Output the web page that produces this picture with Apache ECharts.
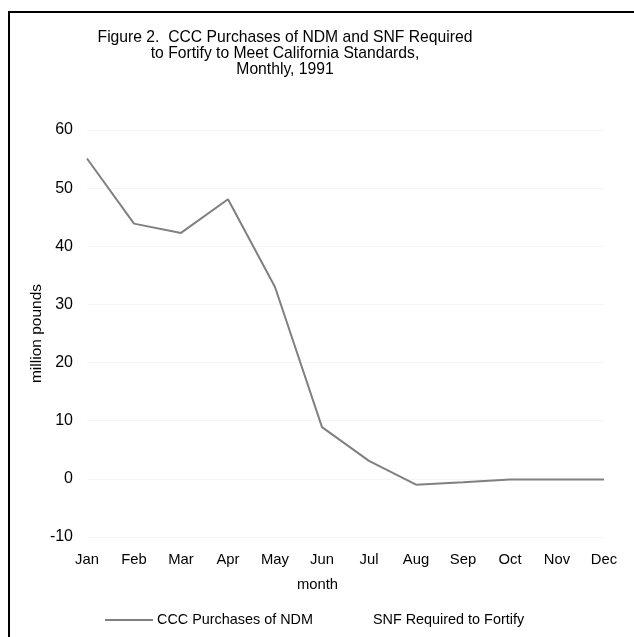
<!DOCTYPE html>
<html>
<head>
<meta charset="utf-8">
<script src="https://cdn.jsdelivr.net/npm/echarts@6/dist/echarts.min.js"></script>
<style>html,body{margin:0;padding:0;background:#fff}#c{width:634px;height:637px}</style>
</head>
<body>
<div id="c"></div>
<script>
const months = ['Jan','Feb','Mar','Apr','May','Jun','Jul','Aug','Sep','Oct','Nov','Dec'];
const cccPurchases = [55.1, 43.9, 42.3, 48.1, 33.0, 8.9, 3.1, -1.0, -0.6, -0.1, -0.1, -0.1];
const snfRequired = [];
const yTicks = [-10, 0, 10, 20, 30, 40, 50, 60];
const titleText = 'Figure 2.  CCC Purchases of NDM and SNF Required\nto Fortify to Meet California Standards,\nMonthly, 1991';

const font = 'Liberation Sans, Arial, sans-serif';
const chart = echarts.init(document.getElementById('c'));
chart.setOption({
  animation: false,
  backgroundColor: '#fff',
  title: {
    text: titleText, left: 280, top: 25, textAlign: 'center',
    textStyle: { fontFamily: font, fontSize: 15.7, fontWeight: 'normal', color: '#000', lineHeight: 16 }
  },
  graphic: [{
    type: 'rect', shape: { x: 9, y: 12, width: 700, height: 700 },
    style: { fill: 'none', stroke: '#000', lineWidth: 2 }, silent: true
  }],
  legend: {
    top: 608, left: 100,
    icon: 'rect', itemWidth: 48, itemHeight: 2, itemGap: 8,
    textStyle: { fontFamily: font, fontSize: 14.4, color: '#000', padding: [0, 0, 0, -1] },
    data: [
      { name: 'CCC Purchases of NDM', itemStyle: { color: '#808080' } },
      { name: 'SNF Required to Fortify', itemStyle: { color: '#fff' } }
    ]
  },
  grid: { left: 87, right: 30, top: 130, bottom: 100, containLabel: false },
  xAxis: {
    type: 'category', data: months, boundaryGap: false,
    name: 'month', nameLocation: 'middle', nameGap: 40, nameMoveOverlap: false,
    nameTextStyle: { fontFamily: font, fontSize: 14.8, color: '#000', padding: [0, 56, 0, 0] },
    axisLine: { show: false }, axisTick: { show: false },
    axisLabel: { fontFamily: font, fontSize: 14.8, color: '#000', margin: 15 },
    splitLine: { show: false }
  },
  yAxis: {
    type: 'value', min: yTicks[0], max: yTicks[yTicks.length - 1], interval: 10,
    name: 'million pounds', nameLocation: 'middle', nameGap: 42, nameMoveOverlap: false,
    nameTextStyle: { fontFamily: font, fontSize: 15.5, color: '#000' },
    axisLine: { show: false }, axisTick: { show: false },
    axisLabel: { fontFamily: font, fontSize: 16, color: '#000', margin: 14 },
    splitLine: { show: true, lineStyle: { color: '#f5f5f5', width: 1 } }
  },
  series: [
    { name: 'CCC Purchases of NDM', type: 'line', data: cccPurchases, symbol: 'none',
      lineStyle: { color: '#808080', width: 2 }, itemStyle: { color: '#808080' } },
    { name: 'SNF Required to Fortify', type: 'line', data: snfRequired, symbol: 'none',
      lineStyle: { color: '#fff', width: 2 }, itemStyle: { color: '#fff' } }
  ]
});
</script>
</body>
</html>
